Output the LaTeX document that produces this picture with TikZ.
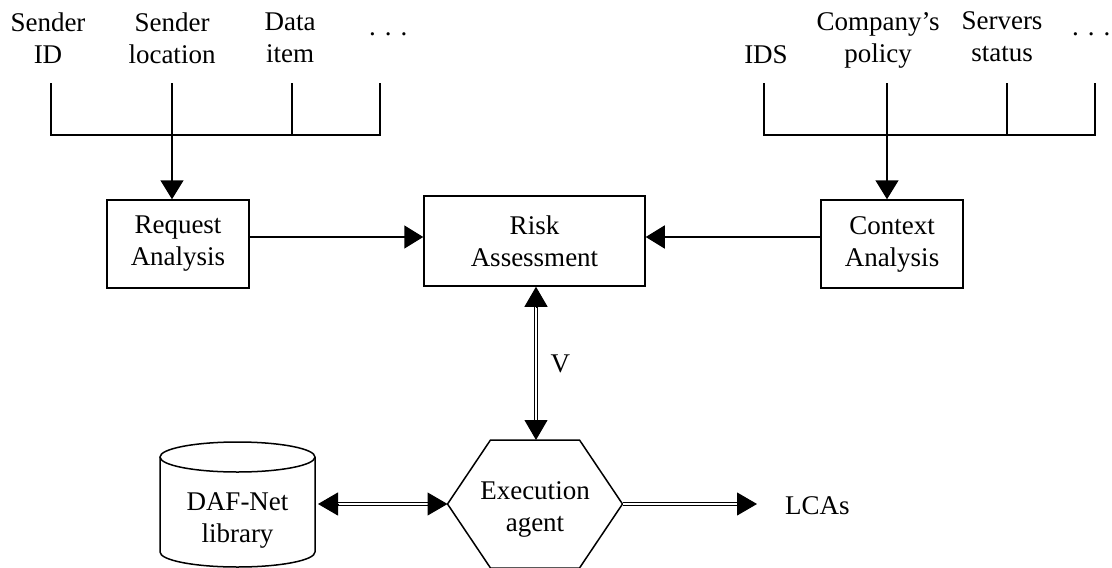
\documentclass[tikz,border=0pt]{standalone}
\usepackage{fontspec}
\setmainfont{Liberation Serif}
\usetikzlibrary{arrows.meta,calc}
\begin{document}
\begin{tikzpicture}[x=1pt,y=-1pt,
  every node/.style={font=\fontsize{27}{32}\selectfont, align=center, inner sep=0pt},
  box/.style={draw, line width=1.5pt},
  conn/.style={line width=1.5pt},
  arr/.style={line width=1.5pt, -{Triangle[length=19pt,width=23pt]}},
  tiponly/.style={line width=1pt, -{Triangle[length=20pt,width=23pt]}},
  dbl/.style={double, line width=1.2pt, double distance=2.4pt},
  shapeline/.style={line width=1.5pt}
]
\useasboundingbox (0,0) rectangle (1112,568);

% ---- top-left inputs
\node (sid)   at (48,38)  {Sender\\ID};
\node (sloc)  at (172,38) {Sender\\location};
\node (ditem) at (290,38) {Data\\item};
\node[anchor=base west] (dotsl) at (369,35) {. . .};

\coordinate (a1) at (51,83);
\coordinate (a2) at (172,83);
\coordinate (a3) at (292,83);
\coordinate (a4) at (380,83);
\coordinate (b1) at (51,135);
\coordinate (b4) at (380,135);

% ---- top-right inputs
\node (ids)  at (766,55)  {IDS};
\node (pol)  at (878,40)  {Company's\\policy};
\node (srv)  at (1002,37) {Servers\\status};
\node[anchor=base west] (dotsr) at (1072,35) {. . .};

\coordinate (c1) at (764,83);
\coordinate (c2) at (887,83);
\coordinate (c3) at (1007,83);
\coordinate (c4) at (1095,83);
\coordinate (d1) at (764,135);
\coordinate (d4) at (1095,135);

% ---- boxes
\node[box, minimum width=142pt, minimum height=88pt] (req)  at (178,244)   {Request\\Analysis};
\node[box, minimum width=221pt, minimum height=90pt] (risk) at (534.5,241) {Risk\\Assessment};
\node[box, minimum width=142pt, minimum height=88pt] (ctx)  at (892,244)   {Context\\Analysis};

% ---- trees
\draw[conn] (a1) -- (b1) -- (b4) -- (a4);
\draw[conn] (a3) -- (a3 |- b1);
\draw[arr] (a2) -- (a2 |- req.north);

\draw[conn] (c1) -- (d1) -- (d4) -- (c4);
\draw[conn] (c3) -- (c3 |- d1);
\draw[arr] (c2) -- (c2 |- ctx.north);

% ---- into risk assessment
\draw[arr] ([yshift=7pt]req.east) -- ([yshift=7pt]req.east -| risk.west);
\draw[arr] ([yshift=7pt]ctx.west) -- ([yshift=7pt]ctx.west -| risk.east);

% ---- execution agent (hexagon)
\coordinate (hc) at (535,504);
\draw[shapeline]
  ($(hc)+(-87.5,0)$) coordinate (hexW)
  -- ($(hc)+(-44.5,-64)$)
  -- ($(hc)+(44.5,-64)$)
  -- ($(hc)+(87.5,0)$) coordinate (hexE)
  -- ($(hc)+(44.5,64)$)
  -- ($(hc)+(-44.5,64)$)
  -- cycle;
\coordinate (hexN) at ($(hc)+(1,-64)$);
\node (exec) at (535,509) {Execution\\agent};

% ---- DAF-Net library (cylinder)
\draw[shapeline] (237.5,457) ellipse [x radius=77.5, y radius=15];
\draw[shapeline] (160,457) -- (160,552) arc[start angle=180, end angle=0, x radius=77.5, y radius=15] -- (315,457);
\node (daf) at (237.5,520) {DAF-Net\\library};
\coordinate (dafE) at (318,504);

% ---- LCAs
\node[anchor=west] (lcas) at (785,505.5) {LCAs};
\coordinate (lcaT) at (757,504);

% ---- V link (risk <-> execution agent)
\coordinate (riskS) at (risk.south -| hexN);
\draw[dbl, shorten <=19pt, shorten >=19pt] (riskS) -- (hexN)
  node[midway, right=14pt] (v) {V};
\draw[tiponly] ($(riskS)!20pt!(hexN)$) -- (riskS);
\draw[tiponly] ($(hexN)!20pt!(riskS)$) -- (hexN);

% ---- DAF-Net <-> execution agent
\draw[dbl, shorten <=19pt, shorten >=19pt] (dafE) -- (hexW);
\draw[tiponly] ($(dafE)!20pt!(hexW)$) -- (dafE);
\draw[tiponly] ($(hexW)!20pt!(dafE)$) -- (hexW);

% ---- execution agent -> LCAs
\draw[dbl, shorten >=19pt] (hexE) -- (lcaT);
\draw[tiponly] ($(lcaT)!20pt!(hexE)$) -- (lcaT);
\end{tikzpicture}
\end{document}
